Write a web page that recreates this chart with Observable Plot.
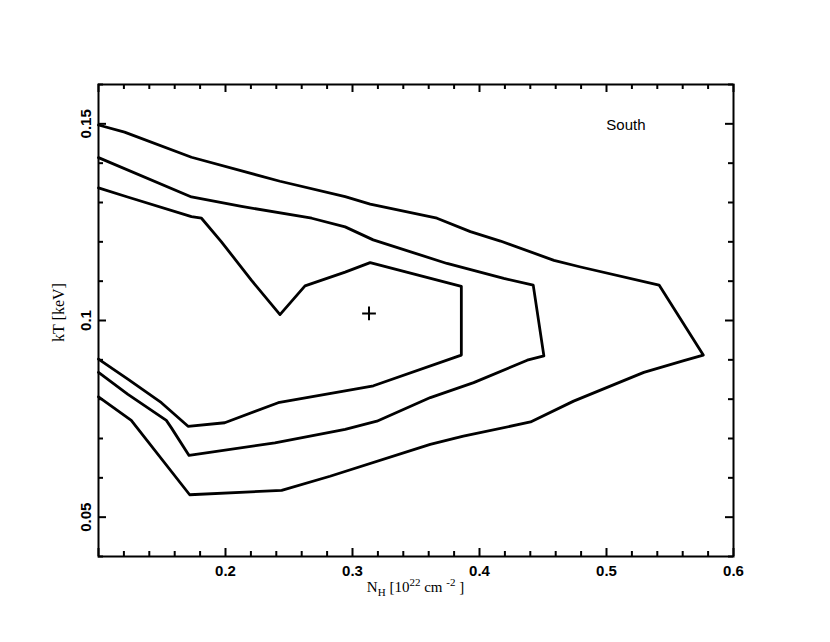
<!DOCTYPE html>
<html><head><meta charset="utf-8">
<script src="https://cdn.jsdelivr.net/npm/d3@7"></script>
<script src="https://cdn.jsdelivr.net/npm/@observablehq/plot@0.6"></script>
<style>body{margin:0;background:#fff}</style>
</head><body><div id="chart"></div>
<script>
// Confidence contours (N_H [1e22 cm^-2], kT [keV])
const contourInner = [[0.100,0.1337],[0.1229,0.1314],[0.1732,0.1264],[0.1811,0.1260],[0.1968,0.1200],[0.2205,0.1102],[0.2429,0.1015],[0.2626,0.1088],[0.2942,0.1123],[0.3139,0.1147],[0.3857,0.1087],[0.3857,0.0912],[0.3165,0.0834],[0.2942,0.0821],[0.2415,0.0791],[0.1994,0.0740],[0.1705,0.0731],[0.1495,0.0791],[0.1231,0.0851],[0.100,0.0902]];
const contourMiddle = [[0.100,0.1414],[0.1732,0.1314],[0.2126,0.1290],[0.2679,0.1260],[0.2942,0.1238],[0.3163,0.1205],[0.3744,0.1145],[0.4191,0.1107],[0.4423,0.1090],[0.4507,0.0910],[0.4376,0.0899],[0.3954,0.0842],[0.3613,0.0804],[0.3192,0.0744],[0.2942,0.0723],[0.2389,0.0689],[0.1713,0.0657],[0.1574,0.0727],[0.1534,0.0746],[0.1229,0.0813],[0.100,0.0868]];
const contourOuter = [[0.100,0.1497],[0.1205,0.1479],[0.1732,0.1415],[0.2429,0.1354],[0.2942,0.1315],[0.3139,0.1296],[0.3665,0.1260],[0.3928,0.1226],[0.4165,0.1202],[0.4586,0.1153],[0.4796,0.1136],[0.5414,0.1090],[0.5762,0.0912],[0.5609,0.0898],[0.5294,0.0868],[0.4741,0.0795],[0.4402,0.0742],[0.3873,0.0706],[0.3612,0.0685],[0.2823,0.0604],[0.2442,0.0568],[0.1718,0.0557],[0.1258,0.0746],[0.100,0.0806]];
const bestFit = [[0.313,0.1018]];

const xMajor = [0.1,0.2,0.3,0.4,0.5,0.6];
const xMinor = [0.12,0.14,0.16,0.18,0.22,0.24,0.26,0.28,0.32,0.34,0.36,0.38,0.42,0.44,0.46,0.48,0.52,0.54,0.56,0.58];
const xLabels = [0.2,0.3,0.4,0.5,0.6];
const yMajor = [0.05,0.1,0.15];
const yMinor = [0.04,0.06,0.07,0.08,0.09,0.11,0.12,0.13,0.14,0.16];
const yLabels = [0.05,0.1,0.15];

const W=830,H=642,mL=98,mR=97,mT=84,mB=86;
const iW=W-mL-mR, iH=H-mT-mB;
const majL=8, minL=5, tw=2;
const tickFont = {fontFamily:"Liberation Sans, Arial, sans-serif", fontSize:15, fontWeight:"bold"};

const plot = Plot.plot({
  width:W, height:H, marginLeft:mL, marginRight:mR, marginTop:mT, marginBottom:mB,
  x:{domain:[0.1,0.6], axis:null},
  y:{domain:[0.04,0.16], axis:null},
  style:{background:"#fff"},
  marks:[
    Plot.tickX(xMajor,{x:d=>d, insetTop:iH-majL, strokeWidth:tw}),
    Plot.tickX(xMajor,{x:d=>d, insetBottom:iH-majL, strokeWidth:tw}),
    Plot.tickX(xMinor,{x:d=>d, insetTop:iH-minL, strokeWidth:tw}),
    Plot.tickX(xMinor,{x:d=>d, insetBottom:iH-minL, strokeWidth:tw}),
    Plot.tickY(yMajor,{y:d=>d, insetRight:iW-majL, strokeWidth:tw}),
    Plot.tickY(yMajor,{y:d=>d, insetLeft:iW-majL, strokeWidth:tw}),
    Plot.tickY(yMinor,{y:d=>d, insetRight:iW-minL, strokeWidth:tw}),
    Plot.tickY(yMinor,{y:d=>d, insetLeft:iW-minL, strokeWidth:tw}),
    Plot.frame({stroke:"#000", strokeWidth:2}),
    Plot.line(contourOuter,{x:d=>d[0], y:d=>d[1], stroke:"#000", strokeWidth:2.8}),
    Plot.line(contourMiddle,{x:d=>d[0], y:d=>d[1], stroke:"#000", strokeWidth:2.8}),
    Plot.line(contourInner,{x:d=>d[0], y:d=>d[1], stroke:"#000", strokeWidth:2.8}),
    Plot.dot(bestFit,{x:d=>d[0], y:d=>d[1], symbol:"plus", r:4.5, stroke:"#000", strokeWidth:2}),
    Plot.text(xLabels,{x:d=>d, frameAnchor:"bottom", dy:19, lineAnchor:"bottom", textAnchor:"middle", text:d=>String(d), ...tickFont}),
    Plot.text(yLabels,{y:d=>d, frameAnchor:"left", dx:-8, lineAnchor:"bottom", textAnchor:"middle", rotate:-90, text:d=>String(d), ...tickFont}),
    Plot.text(["kT [keV]"],{frameAnchor:"left", dx:-35, dy:-8, lineAnchor:"bottom", textAnchor:"middle", rotate:-90, text:d=>d, fontFamily:"Liberation Serif, Times New Roman, serif", fontSize:16}),
    Plot.text(["South"],{frameAnchor:"top-right", dx:-88, dy:35, lineAnchor:"top", textAnchor:"end", text:d=>d, fontFamily:"Liberation Sans, Arial, sans-serif", fontSize:15, fontWeight:500})
  ]
});
document.getElementById("chart").appendChild(plot);

// x-axis title with sub/superscripts
const svg = d3.select(plot);
const t = svg.append("text")
  .attr("x", mL + iW/2).attr("y", 592)
  .attr("text-anchor","middle")
  .attr("font-family","Liberation Serif, Times New Roman, serif")
  .attr("font-size",15).attr("fill","#000");
t.append("tspan").text("N");
t.append("tspan").attr("font-size",11).attr("dy",4).text("H");
t.append("tspan").attr("dy",-4).text(" [10");
t.append("tspan").attr("font-size",11).attr("dy",-6).text("22");
t.append("tspan").attr("dy",6).text(" cm ");
t.append("tspan").attr("font-size",11).attr("dy",-6).text("-2");
t.append("tspan").attr("dy",6).text(" ]");
</script>
</body></html>
